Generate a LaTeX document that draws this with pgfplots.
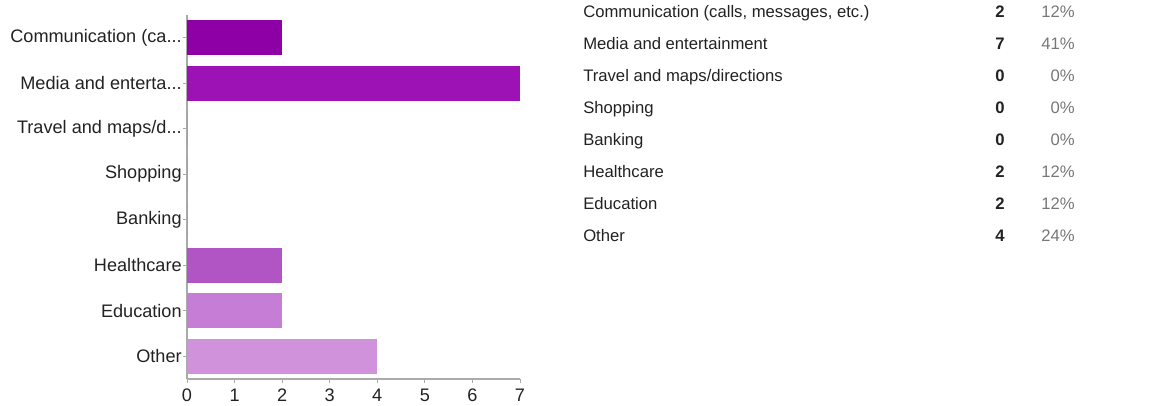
\documentclass[border=0pt]{standalone}
\usepackage{fontspec}
\setmainfont{Liberation Sans}
\usepackage{pgfplots}
\pgfplotsset{compat=1.18}
\definecolor{c1}{HTML}{8E00A6}
\definecolor{c2}{HTML}{9C12B4}
\definecolor{c3}{HTML}{A630BB}
\definecolor{c4}{HTML}{AB40BF}
\definecolor{c5}{HTML}{AE4AC2}
\definecolor{c6}{HTML}{B154C4}
\definecolor{c7}{HTML}{C67DD5}
\definecolor{c8}{HTML}{D092DB}
\definecolor{axgray}{HTML}{AAAAAA}
\definecolor{txt}{HTML}{222222}
\definecolor{pct}{HTML}{777777}
\newcommand{\dd}{.{}.{}.}
\begin{document}
\begin{tikzpicture}
\useasboundingbox (0,0) rectangle (868.5pt,304.5pt);
\begin{axis}[
  at={(140.25pt,20.25pt)}, anchor=south west,
  scale only axis, width=249.75pt, height=273pt,
  xbar, bar width=26.25pt, bar shift=0pt,
  xmin=0, xmax=7, ymin=-0.5, ymax=7.5,
  y dir=reverse,
  xtick={0,1,2,3,4,5,6,7},
  ytick={0,1,2,3,4,5,6,7},
  yticklabels={{Communication (ca\dd},{Media and enterta\dd},{Travel and maps/d\dd},Shopping,Banking,Healthcare,Education,Other},
  axis x line*=bottom, axis y line*=left,
  axis line style={axgray, line width=0.8pt},
  x axis line style={-}, y axis line style={-},
  tick style={axgray, line width=0.6pt},
  tick align=outside, major tick length=3pt,
  tick label style={font=\fontsize{13.6}{15}\selectfont, text=txt},
  yticklabel style={inner sep=0.8pt},
  xticklabel style={inner sep=1pt, yshift=-3.5pt},
  /pgf/number format/assume math mode=true,
  clip=false,
]
\addplot[draw=none, fill=c1] coordinates {(2,0)};
\addplot[draw=none, fill=c2] coordinates {(7,1)};
\addplot[draw=none, fill=c3] coordinates {(0,2)};
\addplot[draw=none, fill=c4] coordinates {(0,3)};
\addplot[draw=none, fill=c5] coordinates {(0,4)};
\addplot[draw=none, fill=c6] coordinates {(2,5)};
\addplot[draw=none, fill=c7] coordinates {(2,6)};
\addplot[draw=none, fill=c8] coordinates {(4,7)};
\end{axis}
\begin{scope}[every node/.style={font=\fontsize{12.5}{14}\selectfont, inner sep=0pt}]
\foreach \lab/\n/\p [count=\i from 0] in {
  {Communication (calls, messages, etc.)}/2/12\%,
  {Media and entertainment}/7/41\%,
  {Travel and maps/directions}/0/0\%,
  {Shopping}/0/0\%,
  {Banking}/0/0\%,
  {Healthcare}/2/12\%,
  {Education}/2/12\%,
  {Other}/4/24\%}{
  \pgfmathsetmacro{\yy}{0.75*(406-18-31.9*\i)}
  \node[anchor=base west, text=txt] at (437.25pt,\yy pt) {\lab};
  \node[anchor=base, text=txt] at (750pt,\yy pt) {\textbf{\n}};
  \node[anchor=base east, text=pct] at (806.25pt,\yy pt) {\p};
}
\end{scope}
\end{tikzpicture}
\end{document}
